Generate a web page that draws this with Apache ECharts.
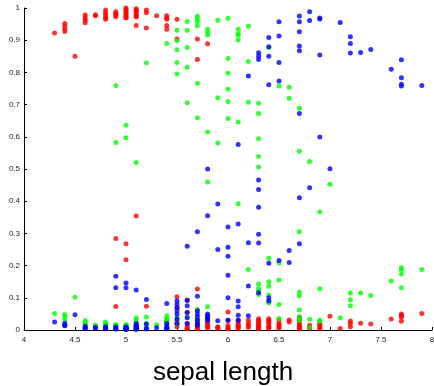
<!DOCTYPE html>
<html>
<head>
<meta charset="utf-8">
<script src="https://cdn.jsdelivr.net/npm/echarts@6/dist/echarts.min.js"></script>
<style>
  html, body { margin: 0; padding: 0; background: #fff; }
  #chart { width: 434px; height: 386px; }
</style>
</head>
<body>
<div id="chart"></div>
<script>
// probabilities per sepal length
const redCols = [
  [4.3, [0.922]],
  [4.4, [0.952, 0.944, 0.935, 0.927]],
  [4.5, [0.85]],
  [4.6, [0.978, 0.97, 0.962, 0.954]],
  [4.7, [0.979, 0.976]],
  [4.8, [0.994, 0.985, 0.978, 0.97, 0.965]],
  [4.9, [0.988, 0.983, 0.978, 0.973, 0.284, 0.073]],
  [5.0, [1.0, 0.995, 0.99, 0.985, 0.98, 0.975, 0.97, 0.97, 0.268, 0.218]],
  [5.1, [0.998, 0.993, 0.99, 0.983, 0.978, 0.975, 0.972, 0.946, 0.354]],
  [5.2, [0.994, 0.985, 0.938, 0.074]],
  [5.3, [0.976]],
  [5.4, [0.976, 0.97, 0.965, 0.946, 0.934, 0.03]],
  [5.5, [0.965, 0.904, 0.103, 0.07, 0.03, 0.02, 0.01]],
  [5.6, [0.093, 0.054, 0.02, 0.01, 0.005, 0.004]],
  [5.7, [0.904, 0.84, 0.127, 0.03, 0.02, 0.012, 0.006, 0.004]],
  [5.8, [0.889, 0.03, 0.025, 0.02, 0.015, 0.01, 0.006]],
  [5.9, [0.01, 0.008, 0.005]],
  [6.0, [0.056, 0.03, 0.015, 0.008, 0.004, 0.004]],
  [6.1, [0.03, 0.02, 0.015, 0.01, 0.008, 0.005]],
  [6.2, [0.03, 0.02, 0.015, 0.008]],
  [6.3, [0.035, 0.03, 0.025, 0.02, 0.015, 0.01, 0.008, 0.005, 0.004]],
  [6.4, [0.035, 0.03, 0.025, 0.02, 0.012, 0.008, 0.005]],
  [6.5, [0.03, 0.02, 0.015, 0.01, 0.005]],
  [6.6, [0.031, 0.025]],
  [6.7, [0.04, 0.035, 0.03, 0.02, 0.015, 0.01, 0.006, 0.004]],
  [6.8, [0.015, 0.008, 0.005]],
  [6.9, [0.02, 0.015, 0.008, 0.005]],
  [7.0, [0.043]],
  [7.1, [0.005]],
  [7.2, [0.028, 0.02, 0.01]],
  [7.3, [0.021]],
  [7.4, [0.019]],
  [7.6, [0.034]],
  [7.7, [0.05, 0.045, 0.04, 0.027]],
  [7.9, [0.051]]
];

const greenCols = [
  [4.3, [0.051]],
  [4.4, [0.048, 0.04, 0.032]],
  [4.5, [0.102]],
  [4.6, [0.029, 0.025, 0.021, 0.018]],
  [4.7, [0.015, 0.012]],
  [4.8, [0.025, 0.02, 0.018, 0.016, 0.012]],
  [4.9, [0.759, 0.582, 0.017, 0.015, 0.012, 0.01]],
  [5.0, [0.636, 0.597, 0.017, 0.015, 0.012, 0.01, 0.008, 0.006, 0.005, 0.005]],
  [5.1, [0.52, 0.037, 0.03, 0.02, 0.015, 0.012, 0.01, 0.008, 0.006]],
  [5.2, [0.83, 0.04, 0.02, 0.015]],
  [5.3, [0.016]],
  [5.4, [0.89, 0.044, 0.035, 0.031, 0.025, 0.02]],
  [5.5, [0.931, 0.898, 0.87, 0.831, 0.795, 0.04, 0.02]],
  [5.6, [0.958, 0.931, 0.877, 0.816, 0.706, 0.04]],
  [5.7, [0.974, 0.966, 0.958, 0.945, 0.766, 0.659, 0.064, 0.03]],
  [5.8, [0.934, 0.925, 0.916, 0.615, 0.46, 0.072, 0.04]],
  [5.9, [0.962, 0.721, 0.581]],
  [6.0, [0.968, 0.843, 0.797, 0.748, 0.71, 0.657]],
  [6.1, [0.934, 0.915, 0.901, 0.646, 0.392, 0.92]],
  [6.2, [0.943, 0.834, 0.707, 0.188]],
  [6.3, [0.704, 0.672, 0.594, 0.539, 0.506, 0.143, 0.128, 0.122, 0.11]],
  [6.4, [0.877, 0.223, 0.136, 0.109, 0.084, 0.15, 0.09]],
  [6.5, [0.758, 0.208, 0.155, 0.079, 0.036]],
  [6.6, [0.754, 0.72]],
  [6.7, [0.689, 0.555, 0.305, 0.118, 0.106, 0.062, 0.04, 0.03]],
  [6.8, [0.523, 0.033, 0.008]],
  [6.9, [0.367, 0.128, 0.03, 0.027]],
  [7.0, [0.453]],
  [7.1, [0.038]],
  [7.2, [0.115, 0.094, 0.075]],
  [7.3, [0.115]],
  [7.4, [0.107]],
  [7.6, [0.152]],
  [7.7, [0.193, 0.186, 0.174, 0.131]],
  [7.9, [0.188]]
];

const blueCols = [
  [4.3, [0.025]],
  [4.4, [0.021, 0.015, 0.013]],
  [4.5, [0.047]],
  [4.6, [0.012, 0.008, 0.006, 0.004]],
  [4.7, [0.008, 0.006]],
  [4.8, [0.01, 0.008, 0.006, 0.005, 0.004]],
  [4.9, [0.167, 0.131, 0.01, 0.005, 0.004, 0.003]],
  [5.0, [0.146, 0.131, 0.01, 0.008, 0.006, 0.005, 0.004, 0.003, 0.002, 0.002]],
  [5.1, [0.124, 0.02, 0.015, 0.01, 0.008, 0.005, 0.004, 0.003, 0.002]],
  [5.2, [0.095, 0.019, 0.005, 0.003]],
  [5.3, [0.007]],
  [5.4, [0.082, 0.02, 0.012, 0.008, 0.005, 0.004]],
  [5.5, [0.09, 0.08, 0.07, 0.06, 0.05, 0.035, 0.02]],
  [5.6, [0.26, 0.092, 0.075, 0.054, 0.038, 0.02]],
  [5.7, [0.305, 0.105, 0.06, 0.05, 0.04, 0.03, 0.02, 0.015]],
  [5.8, [0.5, 0.355, 0.05, 0.045, 0.04, 0.035, 0.03]],
  [5.9, [0.391, 0.25, 0.029]],
  [6.0, [0.32, 0.257, 0.229, 0.17, 0.1, 0.03]],
  [6.1, [0.576, 0.329, 0.09, 0.072, 0.046, 0.03]],
  [6.2, [0.789, 0.271, 0.137, 0.044]],
  [6.3, [0.861, 0.85, 0.84, 0.466, 0.436, 0.381, 0.297, 0.27, 0.116]],
  [6.4, [0.908, 0.88, 0.85, 0.762, 0.207, 0.1, 0.09]],
  [6.5, [0.957, 0.913, 0.831, 0.773, 0.216]],
  [6.6, [0.247, 0.21]],
  [6.7, [0.975, 0.957, 0.926, 0.882, 0.867, 0.672, 0.411, 0.268]],
  [6.8, [0.988, 0.961, 0.442]],
  [6.9, [0.969, 0.966, 0.854, 0.599]],
  [7.0, [0.501]],
  [7.1, [0.955]],
  [7.2, [0.911, 0.89, 0.86]],
  [7.3, [0.862]],
  [7.4, [0.871]],
  [7.6, [0.81]],
  [7.7, [0.839, 0.783, 0.763, 0.758]],
  [7.9, [0.759]]
];

const xTicks = [4, 4.5, 5, 5.5, 6, 6.5, 7, 7.5, 8];
const yTicks = [0, 0.1, 0.2, 0.3, 0.4, 0.5, 0.6, 0.7, 0.8, 0.9, 1];

function toPoints(cols) {
  const pts = [];
  cols.forEach((c) => {
    c[1].forEach((v) => pts.push([c[0], v]));
  });
  return pts;
}

const labelStyle = {
  fontFamily: 'Liberation Sans',
  fontSize: 8,
  color: '#262626',
};

const myChart = echarts.init(document.getElementById('chart'));
const option = {
  animation: false,
  grid: {
    left: 24,
    right: 2,
    top: 8,
    bottom: 56,
    containLabel: false,
    outerBoundsMode: 'none',
  },
  xAxis: {
    type: 'value',
    min: 4,
    max: 8,
    interval: 0.5,
    name: 'sepal length',
    nameLocation: 'middle',
    nameGap: 30,
    nameTextStyle: {
      fontFamily: 'Liberation Sans',
      fontSize: 26,
      color: '#000',
      padding: [0, 10, 0, 0],
    },
    axisLine: { lineStyle: { color: '#000', width: 1 } },
    axisTick: { inside: true, length: 3, lineStyle: { color: '#000' } },
    splitLine: { show: false },
    axisLabel: Object.assign({ margin: 6, formatter: (v) => (xTicks.indexOf(v) >= 0 ? String(v) : '') }, labelStyle),
  },
  yAxis: {
    type: 'value',
    min: 0,
    max: 1,
    interval: 0.1,
    axisLine: { show: true, lineStyle: { color: '#000', width: 1 } },
    axisTick: { show: true, inside: true, length: 3, lineStyle: { color: '#000' } },
    splitLine: { show: false },
    axisLabel: Object.assign({
      margin: 4,
      formatter: (v) => {
        const t = yTicks.find((y) => Math.abs(y - v) < 1e-6);
        return t === undefined ? '' : String(t);
      },
    }, labelStyle),
  },
  series: [
    { type: 'scatter', symbolSize: 5, itemStyle: { color: '#ff0000' }, data: toPoints(redCols) },
    { type: 'scatter', symbolSize: 5, itemStyle: { color: '#00ff00' }, data: toPoints(greenCols) },
    { type: 'scatter', symbolSize: 5, itemStyle: { color: '#0000ff' }, data: toPoints(blueCols) },
  ],
};
myChart.setOption(option);
</script>
</body>
</html>
